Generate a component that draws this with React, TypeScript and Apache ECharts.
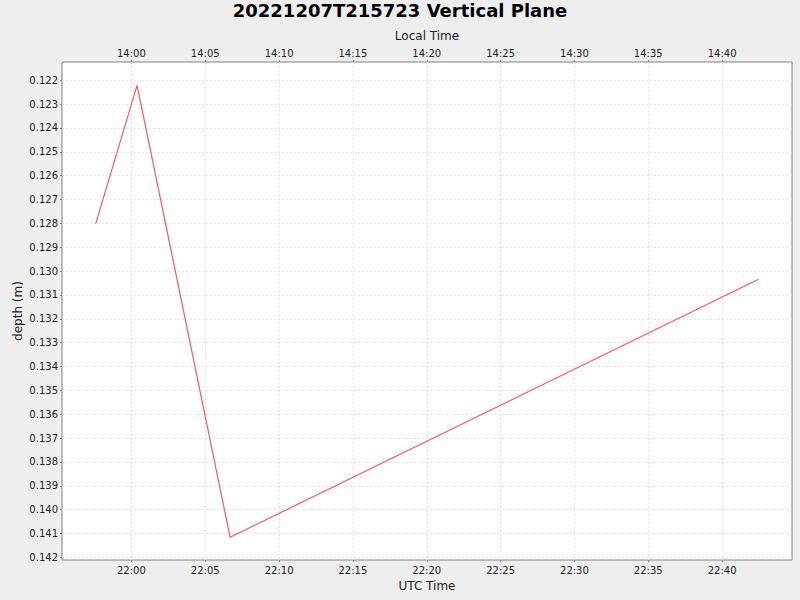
import React, { useEffect, useRef } from "react";
import * as echarts from "echarts";

const utcTimes = ["21:57:35", "22:00:23", "22:06:41", "22:42:28"];
const depths = [0.12801, 0.12221, 0.14116, 0.13034];
const utcTickLabels = ["22:00", "22:05", "22:10", "22:15", "22:20", "22:25", "22:30", "22:35", "22:40"];
const localTickLabels = ["14:00", "14:05", "14:10", "14:15", "14:20", "14:25", "14:30", "14:35", "14:40"];
const depthTicks = [
  0.122, 0.123, 0.124, 0.125, 0.126, 0.127, 0.128, 0.129, 0.13, 0.131, 0.132,
  0.133, 0.134, 0.135, 0.136, 0.137, 0.138, 0.139, 0.14, 0.141, 0.142,
];
const xRange = ["21:55:18", "22:44:44"];
const yRange = [0.121233, 0.142113];

const BASE_MIN = 22 * 60;
const toMin = (s: string) => {
  const p = s.split(":").map(Number);
  return p[0] * 60 + p[1] + (p[2] || 0) / 60 - BASE_MIN;
};

const FONT = "DejaVu Sans";

export default function App() {
  const ref = useRef<HTMLDivElement>(null);
  useEffect(() => {
    document.body.style.margin = "0";
    const chart = echarts.init(ref.current!, null, { renderer: "svg" });
    const xTicks = utcTickLabels.map(toMin);
    const utcMap: Record<string, string> = {};
    const localMap: Record<string, string> = {};
    xTicks.forEach((v, i) => {
      utcMap[v.toFixed(3)] = utcTickLabels[i];
      localMap[v.toFixed(3)] = localTickLabels[i];
    });
    const gridLine = { show: true, lineStyle: { color: "#e2e2e2", type: [2, 2] as any, width: 1 } };
    const xCommon = {
      type: "value" as const,
      min: toMin(xRange[0]),
      max: toMin(xRange[1]),
      nameLocation: "middle" as const,
      nameGap: 20,
      nameMoveOverlap: false,
      nameTextStyle: { fontFamily: FONT, fontSize: 12, color: "#222" },
      axisLine: { show: false, onZero: false },
      axisTick: { show: true, length: 2, customValues: xTicks, lineStyle: { color: "#808080" } },
    };
    chart.setOption({
      animation: false,
      backgroundColor: "#eeeeee",
      title: {
        text: "20221207T215723 Vertical Plane",
        left: "center",
        top: 1,
        padding: 0,
        textStyle: { fontFamily: FONT, fontSize: 18, fontWeight: "bold", color: "#000" },
      },
      grid: {
        left: 62,
        right: 8,
        top: 62,
        bottom: 40,
        outerBoundsMode: "none",
        containLabel: false,
        show: true,
        backgroundColor: "#ffffff",
        borderColor: "#808080",
        borderWidth: 1,
      },
      xAxis: [
        {
          ...xCommon,
          position: "bottom",
          name: "UTC Time",
          axisLabel: {
            customValues: xTicks,
            margin: 5,
            fontFamily: FONT,
            fontSize: 10,
            color: "#222",
            formatter: (v: number) => utcMap[v.toFixed(3)] ?? "",
          },
          splitLine: gridLine,
        },
        {
          ...xCommon,
          position: "top",
          name: "Local Time",
          axisLabel: {
            customValues: xTicks,
            margin: 4,
            fontFamily: FONT,
            fontSize: 10,
            color: "#222",
            formatter: (v: number) => localMap[v.toFixed(3)] ?? "",
          },
          splitLine: { show: false },
        },
      ],
      yAxis: {
        type: "value",
        inverse: true,
        position: "left",
        min: yRange[0],
        max: yRange[1],
        name: "depth (m)",
        nameLocation: "middle",
        nameGap: 38,
        nameMoveOverlap: false,
        nameTextStyle: { fontFamily: FONT, fontSize: 12, color: "#222" },
        axisLine: { show: false, onZero: false },
        axisTick: { show: true, length: 2, customValues: depthTicks, lineStyle: { color: "#808080" } },
        axisLabel: {
          customValues: depthTicks,
          margin: 4,
          fontFamily: FONT,
          fontSize: 10,
          color: "#222",
          formatter: (v: number) => v.toFixed(3),
        },
        splitLine: gridLine,
      },
      series: [
        {
          type: "line",
          xAxisIndex: 0,
          data: utcTimes.map((t, i) => [toMin(t), depths[i]]),
          symbol: "none",
          lineStyle: { color: "#ff5555", width: 1.2 },
          itemStyle: { color: "#ff5555" },
        },
      ],
    });
    return () => chart.dispose();
  }, []);
  return <div ref={ref} style={{ width: 800, height: 600 }} />;
}
